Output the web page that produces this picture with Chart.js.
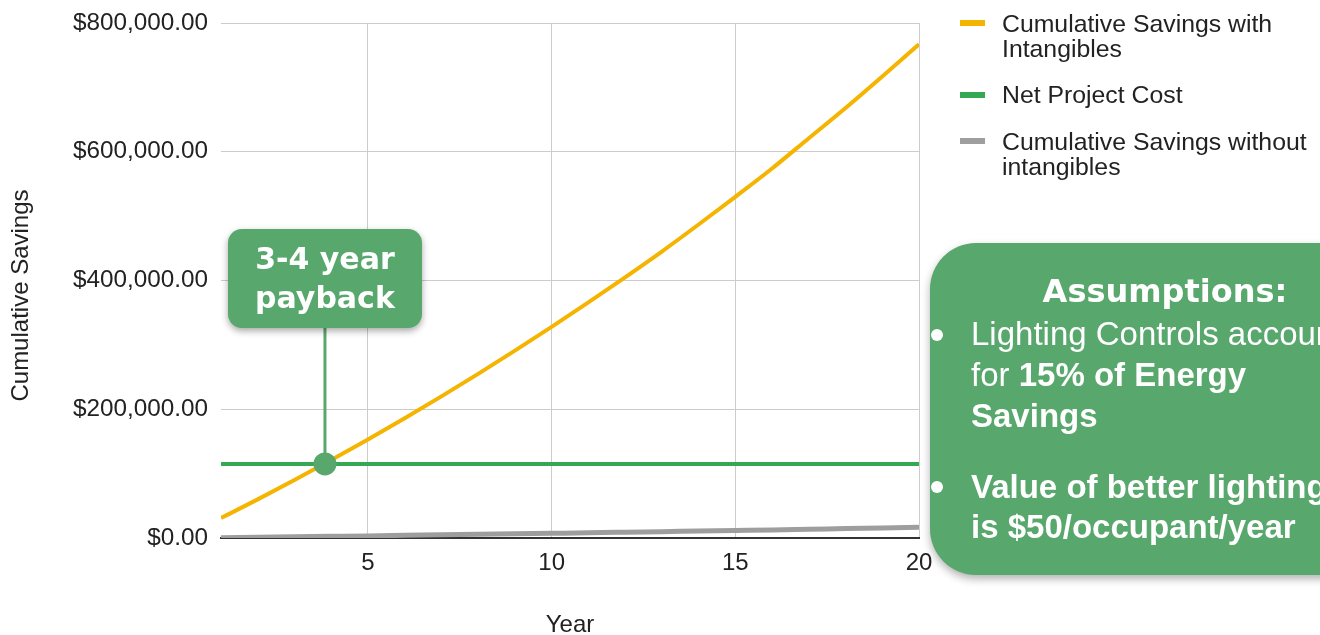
<!DOCTYPE html>
<html>
<head>
<meta charset="utf-8">
<script src="https://cdn.jsdelivr.net/npm/chart.js@4.4.1/dist/chart.umd.min.js"></script>
<style>
  html, body { margin: 0; padding: 0; background: #fff; width: 1320px; height: 635px; overflow: hidden; }
  #wrap { position: relative; width: 1320px; height: 635px; overflow: hidden; }
  #chart { position: absolute; left: 0; top: 0; width: 1320px; height: 635px; }
  #legend { position: absolute; left: 960px; top: 10.5px; font-family: "Liberation Sans", Arial, sans-serif;
            font-size: 24.8px; color: #222; }
  #legend .item { position: relative; padding-left: 42px; width: 314px; line-height: 25px; margin-bottom: 21.5px; }
  #legend .sw { position: absolute; left: 0; top: 9.5px; width: 25px; height: 6px; }
  #payback { position: absolute; top: 229px; left: 228px; width: 194px; height: 99px; box-sizing: border-box;
             padding-top: 9.5px; border-radius: 14px; background: #58a76c; color: #fff;
             box-shadow: 0 3px 7px rgba(0,0,0,0.35); text-align: center;
             font-family: "DejaVu Sans", sans-serif; font-weight: bold; font-size: 30px; line-height: 39px; }
  #assume { position: absolute; left: 930px; top: 243px; width: 470px; height: 332px; border-radius: 46px;
            background: #58a76c; color: #fff; box-shadow: 0 4px 8px rgba(0,0,0,0.3); }
  #assume .head { position: absolute; left: 0; top: 28px; width: 470px; text-align: center; line-height: 40px;
                  font-family: "DejaVu Sans", sans-serif; font-weight: bold; font-size: 32px; }
  #assume .pt { position: absolute; left: 41px; width: 440px; white-space: nowrap;
                font-family: "Liberation Sans", Arial, sans-serif; font-size: 33px; }
  #assume .dot { position: absolute; left: 1px; width: 12px; height: 12px; border-radius: 50%; background: #fff; }
</style>
</head>
<body>
<div id="wrap">
  <canvas id="chart" width="1320" height="635"></canvas>
  <div id="legend"></div>
  <div id="payback"></div>
  <div id="assume">
    <div class="head">Assumptions:</div>
    <div class="dot" style="top:86px"></div>
    <div class="pt" style="top:70px; line-height:41px">Lighting Controls account<br>for <b>15% of Energy<br>Savings</b></div>
    <div class="dot" style="top:238px"></div>
    <div class="pt" style="top:224px; line-height:40px"><b>Value of better lighting<br>is $50/occupant/year</b></div>
  </div>
</div>
<script>
// Project years on the x axis
const years = [1, 2, 3, 4, 5, 6, 7, 8, 9, 10, 11, 12, 13, 14, 15, 16, 17, 18, 19, 20];

// Cumulative savings including intangible benefits ($)
const savingsWithIntangibles = [31000, 60000, 90000, 121000, 153000, 186000, 220000, 255000, 291000, 328000,
                                366000, 405000, 445000, 487000, 530000, 574000, 621000, 668000, 717000, 767000];

// Net project cost ($)
const netProjectCost = [115000, 115000, 115000, 115000, 115000, 115000, 115000, 115000, 115000, 115000,
                        115000, 115000, 115000, 115000, 115000, 115000, 115000, 115000, 115000, 115000];

// Cumulative savings from energy only ($)
const savingsWithoutIntangibles = [500, 1200, 1900, 2600, 3300, 4100, 4900, 5700, 6500, 7300,
                                   8100, 9000, 9900, 10800, 11700, 12600, 13600, 14600, 15600, 16600];

// Y axis ticks
const yTicks = [0, 200000, 400000, 600000, 800000];
// X axis ticks
const xTicks = [5, 10, 15, 20];

// Break-even point
const paybackYear = 3.83;
const paybackCost = 115000;
const paybackText = ['3-4 year', 'payback'];

const seriesNames = ['Cumulative Savings with Intangibles', 'Net Project Cost', 'Cumulative Savings without intangibles'];
const seriesColors = ['#f4b400', '#34a853', '#9e9e9e'];
const yTitle = 'Cumulative Savings';

const FONT = '"Liberation Sans", Arial, sans-serif';
Chart.defaults.font.family = FONT;
Chart.defaults.color = '#222';

const toPoints = (vals) => years.map((y, i) => ({ x: y, y: vals[i] }));

document.getElementById('payback').innerHTML = paybackText.join('<br>');

// Vertical axis title, set a little below the plot's centre line
const yAxisTitle = {
  id: 'yAxisTitle',
  afterDraw(chart) {
    const { ctx, chartArea } = chart;
    ctx.save();
    ctx.translate(21, (chartArea.top + chartArea.bottom) / 2 + 15);
    ctx.rotate(-Math.PI / 2);
    ctx.font = '24px ' + FONT;
    ctx.fillStyle = '#222';
    ctx.textAlign = 'center';
    ctx.textBaseline = 'middle';
    ctx.fillText(yTitle, 0, 0);
    ctx.restore();
  }
};

// Marker and leader line at the break-even point
const paybackMarker = {
  id: 'paybackMarker',
  afterDatasetsDraw(chart) {
    const { ctx, scales } = chart;
    const px = scales.x.getPixelForValue(paybackYear);
    const py = scales.y.getPixelForValue(paybackCost);
    const box = document.getElementById('payback');
    box.style.left = (px - box.offsetWidth / 2) + 'px';
    const boxBottom = box.offsetTop + box.offsetHeight;
    ctx.save();
    ctx.strokeStyle = '#58a76c';
    ctx.lineWidth = 3;
    ctx.beginPath();
    ctx.moveTo(px, boxBottom);
    ctx.lineTo(px, py);
    ctx.stroke();
    ctx.fillStyle = '#58a76c';
    ctx.beginPath();
    ctx.arc(px, py, 11.5, 0, Math.PI * 2);
    ctx.fill();
    ctx.restore();
  }
};

// Legend with wrapped labels on the right
const htmlLegend = {
  id: 'htmlLegend',
  afterUpdate(chart) {
    const el = document.getElementById('legend');
    el.innerHTML = '';
    chart.data.datasets.forEach(ds => {
      const item = document.createElement('div');
      item.className = 'item';
      const sw = document.createElement('span');
      sw.className = 'sw';
      sw.style.background = ds.borderColor;
      item.appendChild(sw);
      item.appendChild(document.createTextNode(ds.label));
      el.appendChild(item);
    });
  }
};

new Chart(document.getElementById('chart'), {
  type: 'line',
  data: {
    datasets: [
      { label: seriesNames[0], data: toPoints(savingsWithIntangibles), borderColor: seriesColors[0], borderWidth: 4 },
      { label: seriesNames[1], data: toPoints(netProjectCost), borderColor: seriesColors[1], borderWidth: 4 },
      { label: seriesNames[2], data: toPoints(savingsWithoutIntangibles), borderColor: seriesColors[2], borderWidth: 5 }
    ]
  },
  options: {
    responsive: false,
    animation: false,
    events: [],
    layout: { padding: { left: 0, top: 23, right: 401, bottom: 0 } },
    elements: { point: { radius: 0 }, line: { cubicInterpolationMode: 'monotone', borderCapStyle: 'butt' } },
    plugins: { legend: { display: false }, tooltip: { enabled: false } },
    scales: {
      x: {
        type: 'linear',
        min: years[0],
        max: years[years.length - 1],
        afterBuildTicks: (s) => { s.ticks = xTicks.map(v => ({ value: v })); },
        afterFit: (s) => { s.height = 97; s.paddingLeft = 0; s.paddingRight = 0; },
        grid: { color: '#cccccc', lineWidth: 1, drawTicks: false },
        border: { display: true, color: '#333333', width: 2 },
        ticks: { padding: 11, font: { size: 24 }, color: '#222', maxRotation: 0 },
        title: { display: true, text: 'Year', font: { size: 24 }, color: '#222', padding: { top: 0, bottom: -5 } }
      },
      y: {
        min: yTicks[0],
        max: yTicks[yTicks.length - 1],
        afterBuildTicks: (s) => { s.ticks = yTicks.map(v => ({ value: v })); },
        afterFit: (s) => { s.width = 221; s.paddingTop = 0; s.paddingBottom = 0; },
        grid: { color: '#cccccc', lineWidth: 1, drawTicks: false },
        border: { display: false },
        ticks: {
          padding: 13,
          font: { size: 24.3 },
          color: '#222',
          callback: (v) => '$' + Number(v).toLocaleString('en-US', { minimumFractionDigits: 2, maximumFractionDigits: 2 })
        },
        title: { display: false }
      }
    }
  },
  plugins: [htmlLegend, yAxisTitle, paybackMarker]
});
</script>
</body>
</html>
